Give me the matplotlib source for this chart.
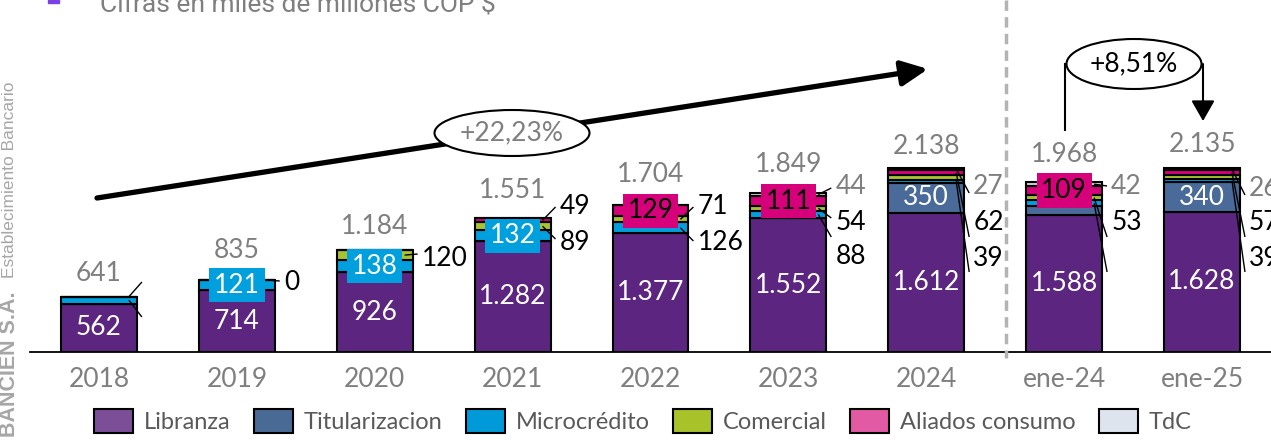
import matplotlib
matplotlib.use('Agg')
import matplotlib.pyplot as plt
from matplotlib.patches import Ellipse, Patch, Rectangle
from matplotlib.lines import Line2D

# ---------------- data ----------------
categories = ['2018', '2019', '2020', '2021', '2022', '2023', '2024', 'ene-24', 'ene-25']
libranza = [562, 714, 926, 1282, 1377, 1552, 1612, 1588, 1628]
titularizacion = [0, 0, 0, 0, 0, 0, 350, 100, 340]
microcredito = [79, 121, 138, 132, 126, 88, 39, 76, 39]
comercial = [0, 0, 120, 89, 71, 54, 48, 53, 45]
aliados = [0, 0, 0, 49, 129, 111, 62, 109, 57]
tdc = [0, 0, 0, 0, 0, 44, 27, 42, 26]
totals = [641, 835, 1184, 1551, 1704, 1849, 2138, 1968, 2135]
series_names = ['Libranza', 'Titularizacion', 'Microcrédito', 'Comercial', 'Aliados consumo', 'TdC']
growth_total = '+22,23%'
growth_yoy = '+8,51%'
title = 'Cifras en miles de millones COP $'
brand_bold = 'BANCIEN S.A.'
brand_rest = 'Establecimiento Bancario'

# ---------------- style / layout ----------------
bar_colors = ['#5c2680', '#4a6b99', '#00a0df', '#a9c22f', '#d6007b', '#c9ced8']
legend_colors = ['#7d4e98', '#4a6a96', '#009ad8', '#a8c22a', '#e35aa4', '#dde4ee']
GREY = '#7f7f7f'
FONT = 'Lato'
W, H = 1271, 440
PX_PER_UNIT = 0.0862
YMAX = 352 / PX_PER_UNIT
BAR_W = 0.55
FS = 19

fig = plt.figure(figsize=(W / 100, H / 100), dpi=100)
ax = fig.add_axes([30 / W, 88 / H, 1241 / W, 352 / H])
ax.set_xlim(-0.5, 8.5)
ax.set_ylim(0, YMAX)


def X(px):
    return (px - 30) / 1241 * 9 - 0.5


def Y(py):
    return (352 - py) / 352 * YMAX


def DX(px):
    return px / 1241 * 9


def fmt(v):
    return f"{v:,}".replace(',', '.')


series = [libranza, titularizacion, microcredito, comercial, aliados, tdc]
xs = list(range(len(categories)))
bottoms = [[0] * len(xs)]
for s in series[:-1]:
    bottoms.append([b + v for b, v in zip(bottoms[-1], s)])

for s, b, c in zip(series, bottoms, bar_colors):
    ax.bar(xs, s, BAR_W, bottom=b, color=c, edgecolor='black', linewidth=1.5, zorder=2)

for sp in ['top', 'right', 'left']:
    ax.spines[sp].set_visible(False)
ax.spines['bottom'].set_color('black')
ax.spines['bottom'].set_linewidth(1.3)
ax.set_yticks([])
ax.set_xticks(xs)
ax.set_xticklabels(categories, fontsize=FS, color=GREY, fontfamily=FONT)
ax.tick_params(axis='x', length=0, pad=11)

# totals above bars
total_offset_px = [23, 30, 23, 28, 31, 28, 21, 28, 23]
for i, t in enumerate(totals):
    top = sum(s[i] for s in series)
    ax.annotate(fmt(t), (i, top), xytext=(0, total_offset_px[i] * 0.72),
                textcoords='offset points', ha='center', va='center',
                fontsize=FS, color=GREY, fontfamily=FONT, zorder=6)

# libranza labels
for i in xs:
    ax.text(i, libranza[i] / 2, fmt(libranza[i]), ha='center', va='center',
            color='white', fontsize=FS, fontfamily=FONT, zorder=4)

# titularizacion labels (large segments)
for i in xs:
    if titularizacion[i] > 200:
        ax.text(i, bottoms[1][i] + titularizacion[i] / 2, fmt(titularizacion[i]),
                ha='center', va='center', color='white', fontsize=FS,
                fontfamily=FONT, zorder=4)

# boxed labels
boxed = [(1, 2, 'white'), (2, 2, 'white'), (3, 2, 'white'),
         (4, 4, 'black'), (5, 4, 'black'), (7, 4, 'black')]
for i, k, tc in boxed:
    v = series[k][i]
    ax.text(i, bottoms[k][i] + v / 2, fmt(v), ha='center', va='center', color=tc,
            fontsize=FS, fontfamily=FONT, zorder=5,
            bbox=dict(boxstyle='square,pad=0.18', fc=bar_colors[k], ec='none'))

# external labels with leader lines: (series, text_y_px, line_end_y_px, show)
external = {
    0: [(2, None, 317, False), (3, None, 282, False)],
    1: [(3, 282, 281, True)],
    2: [(3, 259, 254, True)],
    3: [(4, 207, 207, True), (3, 242, 239, True)],
    4: [(3, 207, 207, True), (2, 242, 241, True)],
    5: [(5, 187, 188, True), (3, 222, 218, True), (2, 256, 237, True)],
    6: [(5, 187, 193, True), (4, 222, 237, True), (2, 258, 272, True)],
    7: [(5, 186, 186, True), (3, 222, 237, True), (2, None, 272, False)],
    8: [(5, 188, 195, True), (4, 222, 237, True), (2, 258, 272, True)],
}
for i, items in external.items():
    right = i + BAR_W / 2
    for k, ty, ly, show in items:
        mid = bottoms[k][i] + series[k][i] / 2
        ax.plot([right - DX(8), right + DX(5)], [mid, Y(ly)], color='black',
                lw=1.0, zorder=3, solid_capstyle='butt')
        if show:
            ax.text(right + DX(9), Y(ty), fmt(series[k][i]), ha='left', va='center',
                    color=GREY if k == 5 else 'black', fontsize=FS,
                    fontfamily=FONT, zorder=6)

# overall growth arrow
ax.annotate('', xy=(X(928), Y(69)), xytext=(X(97), Y(198)),
            arrowprops=dict(arrowstyle='-|>,head_length=0.8,head_width=0.38',
                            lw=3.8, color='black', mutation_scale=20,
                            shrinkA=0, shrinkB=0), zorder=4)
ax.add_patch(Ellipse((X(512), Y(133)), DX(155), 46 / 352 * YMAX, fc='white',
                     ec='black', lw=1.5, zorder=5))
ax.text(X(512), Y(133), growth_total, ha='center', va='center', fontsize=FS,
        color=GREY, fontfamily=FONT, zorder=6)

# YoY bracket
ax.plot([X(1065), X(1065)], [Y(130), Y(64)], color='black', lw=1.5, zorder=4)
ax.annotate('', xy=(X(1203), Y(121)), xytext=(X(1203), Y(64)),
            arrowprops=dict(arrowstyle='-|>,head_length=0.7,head_width=0.4',
                            lw=1.5, color='black', mutation_scale=18,
                            shrinkA=0, shrinkB=0), zorder=4)
ax.add_patch(Ellipse((X(1134), Y(64)), DX(135), 50 / 352 * YMAX, fc='white',
                     ec='black', lw=1.5, zorder=5))
ax.text(X(1134), Y(64), growth_yoy, ha='center', va='center', fontsize=FS,
        color='black', fontfamily=FONT, zorder=6)

# dashed separator
fig.add_artist(Line2D([1006 / W, 1006 / W], [1, 1 - 358 / H], transform=fig.transFigure,
                      color='#b3b3b3', lw=2.5, linestyle=(0, (3, 1.8))))

# title (cut at top) and marker
fig.text(100 / W, 1 - 12 / H, title, fontsize=19, color=GREY, fontfamily='Roboto',
         va='baseline', ha='left')
fig.add_artist(Rectangle((48 / W, 1 - 3 / H), 11 / W, 3 / H, transform=fig.transFigure,
                         color='#7b3fe4'))

# vertical brand text
fig.text(10 / W, 3 / H, brand_bold, rotation=90, ha='center', va='bottom',
         fontsize=15.5, fontweight='bold', color='#a6a6a6', fontfamily='Liberation Sans')
fig.text(10 / W, 162 / H, brand_rest, rotation=90, ha='center', va='bottom',
         fontsize=12.5, color='#a6a6a6', fontfamily='Liberation Sans')

# legend
handles = [Patch(facecolor=c, edgecolor='black', linewidth=1.5) for c in legend_colors]
fig.legend(handles, series_names, loc='center', bbox_to_anchor=(643 / W, 1 - 421 / H),
           ncol=6, frameon=False, prop=dict(family=FONT, size=17), labelcolor='#595959',
           handlelength=1.65, handleheight=1.23, handletextpad=0.45, columnspacing=1.0,
           borderaxespad=0, borderpad=0)

fig.savefig('out.png', dpi=100)
